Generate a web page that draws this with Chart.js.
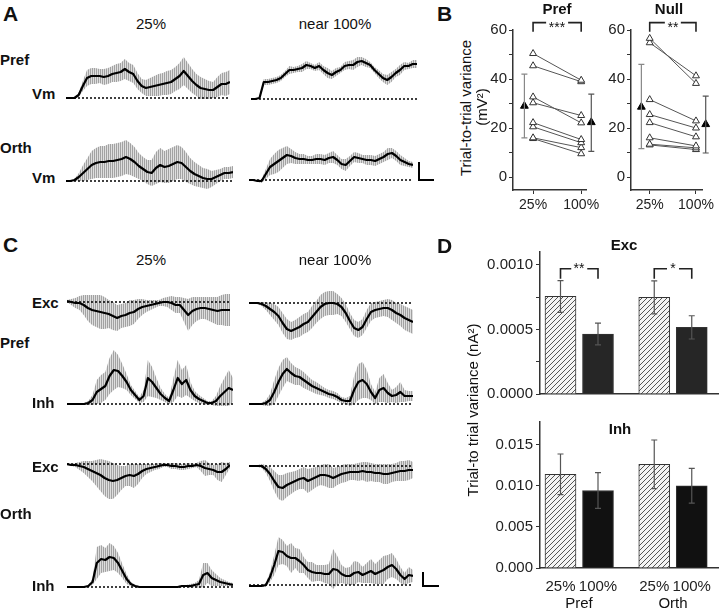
<!DOCTYPE html>
<html>
<head>
<meta charset="utf-8">
<script src="https://cdn.jsdelivr.net/npm/chart.js@4.4.0/dist/chart.umd.min.js"></script>
<style>
  body { margin: 0; background: #fff; }
  #fig { position: relative; width: 720px; height: 610px; overflow: hidden;
         font-family: "Liberation Sans", Arial, sans-serif; color: #111; }
  #fig canvas { position: absolute; }
  .t { position: absolute; white-space: nowrap; line-height: 1; }
</style>
</head>
<body>
<div id="fig"></div>
<script>
// ---- A: Vm traces, mean and s.d., 40 samples each ----
const aPref25 = [0,0,0,3,12,20,22,22,22,21,22,24,25,26,29,26,24,17,12,10,11,12,13,14,15,16,19,22,27,22,17,13,10,9,8,8,11,14,14,16];
const aPref25Sd = [0,0,0,2,5,8,8,8,7,8,8,8,9,9,10,9,9,8,7,8,9,10,11,11,12,12,12,13,14,13,12,11,11,10,9,8,10,11,12,12];
const aOrth25 = [0,0,1,4,8,12,16,18,19,19,20,20,21,22,24,22,19,15,12,9,8,13,16,14,15,17,19,18,14,10,7,5,3,2,2,4,6,8,8,9];
const aOrth25Sd = [0,0,1,4,8,11,14,15,16,16,17,17,17,17,17,16,15,13,12,12,13,16,17,16,17,17,17,16,15,13,12,11,10,10,8,7,6,6,6,6];
const aPref100 = [0,0,1,17,17,18,19,21,25,29,29,30,31,34,33,31,33,29,26,24,27,29,33,34,34,37,38,36,34,29,25,21,19,22,26,29,33,33,35,35];
const aPref100Sd = [0,0,1,3,3,3,3,3,3,4,3,3,4,4,3,3,4,4,5,4,4,3,4,4,5,5,4,4,3,3,4,4,5,5,4,5,4,3,4,4];
const aOrth100 = [0,0,-1,-1,6,13,16,19,22,25,24,22,21,21,20,20,21,21,20,22,23,20,16,15,19,23,22,21,20,20,19,21,23,26,27,24,20,18,16,15];
const aOrth100Sd = [0,0,1,2,5,8,10,11,10,9,7,6,5,5,4,4,5,5,5,5,6,5,5,6,5,5,5,4,5,5,5,5,5,6,5,5,5,4,3,3];

// ---- C: conductance traces ----
const cExcPref25 = [1,0,-1,-1,-3,-6,-8,-9,-10,-11,-12,-14,-16,-14,-13,-11,-10,-7,-5,-4,-3,-2,-1,0,0,-1,-3,-3,-8,-13,-9,-7,-6,-6,-7,-8,-9,-8,-8,-8];
const cExcPref25Sd = [1,3,5,7,10,13,15,16,17,16,14,14,13,12,12,13,12,10,8,6,5,4,3,4,5,7,8,8,12,16,14,12,11,11,12,13,14,15,16,16];
const cInhPref25 = [0,0,0,0,0,1,4,12,15,18,28,34,33,28,22,14,9,4,8,26,22,16,10,6,3,14,26,20,24,14,8,5,3,1,1,3,8,12,16,14];
const cInhPref25Sd = [0,0,0,0,1,2,5,12,14,14,18,20,16,12,8,5,4,3,6,18,15,10,6,4,3,12,18,14,15,8,5,4,3,2,2,5,10,14,18,12];
const cExcPref100 = [0,0,0,-1,-3,-6,-9,-13,-20,-26,-28,-26,-24,-21,-19,-14,-9,-4,-1,0,0,-1,-4,-10,-18,-25,-27,-24,-16,-9,-7,-6,-5,-5,-7,-10,-12,-15,-17,-19];
const cExcPref100Sd = [0,1,1,2,4,6,8,9,10,10,9,9,10,10,10,11,11,12,12,12,12,10,9,9,8,8,8,8,9,9,8,8,8,9,10,10,11,12,12,12];
const cInhPref100 = [0,0,0,0,1,4,12,22,30,35,31,28,27,24,21,18,16,14,12,10,9,7,4,3,3,14,22,24,20,12,6,14,16,11,8,9,12,8,8,8];
const cInhPref100Sd = [0,0,0,1,3,6,12,14,14,12,10,9,8,8,7,6,6,5,4,4,4,4,3,3,5,14,18,18,14,8,6,12,14,10,6,8,10,6,5,5];
const cExcOrth25 = [0,-1,-1,-2,-3,-5,-7,-9,-11,-14,-16,-17,-16,-14,-12,-11,-12,-10,-7,-5,-4,-3,-2,-1,-1,-2,-2,-3,-3,-2,-2,-1,-2,-4,-5,-6,-8,-8,-5,-1];
const cExcOrth25Sd = [0,1,2,4,6,8,10,13,16,18,19,18,15,12,10,11,12,10,7,5,4,3,3,2,2,3,3,3,3,3,2,2,5,8,6,5,8,10,6,3];
const cInhOrth25 = [0,0,0,0,0,1,5,24,28,27,30,29,24,16,8,3,1,0,0,0,0,0,0,0,0,0,0,1,1,1,2,3,12,14,9,7,5,4,3,2];
const cInhOrth25Sd = [0,0,0,0,0,1,3,16,14,12,14,12,10,7,5,2,1,1,1,1,1,1,1,1,1,1,1,1,1,2,2,4,12,10,8,6,4,3,2,2];
const cExcOrth100 = [0,0,0,0,-3,-8,-15,-21,-22,-19,-17,-15,-13,-12,-15,-13,-11,-9,-9,-10,-12,-10,-8,-7,-6,-6,-6,-5,-6,-6,-7,-7,-8,-8,-7,-6,-5,-5,-4,-4];
const cExcOrth100Sd = [0,1,1,2,4,7,10,12,13,12,11,10,10,11,12,11,10,10,11,12,10,9,9,9,8,8,9,9,10,9,9,9,10,10,9,9,10,10,10,8];
const cInhOrth100 = [-1,-1,-1,-1,0,8,20,34,33,29,27,27,24,20,15,13,12,12,11,11,16,15,11,9,9,12,13,10,12,14,11,13,15,18,20,16,10,6,10,9];
const cInhOrth100Sd = [0,0,0,1,2,5,10,14,12,10,15,10,12,8,8,10,8,8,9,10,20,14,9,8,9,12,10,8,10,12,10,12,14,12,12,10,8,6,8,6];

// ---- B: trial-to-trial variance per cell (mV^2) ----
const bLabels = ['25%', '100%'];
const bPref25 = [50.4, 45.4, 32.7, 30.3, 22.2, 20.5, 16.0, 15.7];
const bPref100 = [39.5, 38.9, 22.1, 25.1, 15.3, 14.0, 12.0, 9.5];
const bPrefMean = [29.0, 22.3];
const bPrefLo = [16.0, 10.5];
const bPrefHi = [42.0, 33.8];
const bNull25 = [56.6, 54.8, 31.6, 25.5, 22.2, 16.0, 13.4, 13.1];
const bNull100 = [38.2, 41.3, 22.9, 20.0, 16.4, 12.7, 11.9, 11.2];
const bNullMean = [28.6, 21.5];
const bNullLo = [11.6, 9.8];
const bNullHi = [46.0, 33.0];

// ---- D: variance of conductances (nA^2) ----
const dLabels = ['25%', '100%', '25%', '100%'];
const dExc = [0.000756, 0.000465, 0.000749, 0.000516];
const dExcSem = [0.000123, 0.000084, 0.000128, 0.000090];
const dInh = [0.01139, 0.00942, 0.01261, 0.00999];
const dInhSem = [0.00247, 0.00218, 0.00295, 0.00211];

const FONT = '"Liberation Sans", Arial, sans-serif';
Chart.defaults.font.family = FONT;
Chart.defaults.color = '#222';
const fig = document.getElementById('fig');

function addCanvas(left, top, w, h) {
  const c = document.createElement('canvas');
  c.width = w; c.height = h;
  c.style.left = left + 'px'; c.style.top = top + 'px';
  fig.appendChild(c);
  return c;
}

function label(text, x, y, size, bold, center) {
  const d = document.createElement('div');
  d.className = 't';
  d.textContent = text;
  d.style.left = x + 'px'; d.style.top = y + 'px';
  d.style.fontSize = size + 'px';
  if (bold) d.style.fontWeight = 'bold';
  d.style.transform = center ? 'translate(-50%,-50%)' : 'translate(0,-50%)';
  fig.appendChild(d);
}

function vlabel(text, x, y, size) {
  const d = document.createElement('div');
  d.className = 't';
  d.textContent = text;
  d.style.left = x + 'px'; d.style.top = y + 'px';
  d.style.fontSize = size + 'px';
  d.style.transform = 'translate(-50%,-50%) rotate(-90deg)';
  fig.appendChild(d);
}

function scaleBar(left, top, w, h) {
  const d = document.createElement('div');
  d.style.cssText = 'position:absolute;left:' + left + 'px;top:' + top + 'px;width:' + w +
    'px;height:' + h + 'px;border-left:2px solid #000;border-bottom:2px solid #000;';
  fig.appendChild(d);
}

const quiet = { legend: { display: false }, tooltip: { enabled: false } };

// striped gray for the s.d. band (looks like the dense error lines)
function stripes() {
  const p = document.createElement('canvas');
  p.width = 2; p.height = 1;
  const g = p.getContext('2d');
  g.fillStyle = '#a2a2a2'; g.fillRect(0, 0, 1, 1);
  g.fillStyle = '#dedede'; g.fillRect(1, 0, 1, 1);
  return g.createPattern(p, 'repeat');
}

function trace(mean, sd, x0, x1, base, yLo, yHi) {
  const pad = 4;
  const c = addCanvas(x0 - pad, base - yHi - pad, x1 - x0 + 2 * pad, yHi - yLo + 2 * pad);
  const pts = arr => arr.map((v, i) => ({ x: i, y: v }));
  new Chart(c, {
    type: 'line',
    data: { datasets: [
      { data: pts(mean), borderColor: '#000', borderWidth: 2.2, pointRadius: 0, borderJoinStyle: 'round' },
      { data: pts(mean.map(() => 0)), borderColor: '#000', borderWidth: 1.5, borderDash: [2, 2], pointRadius: 0 },
      { data: pts(mean.map((m, i) => m + sd[i])), borderWidth: 0, pointRadius: 0, fill: '+1', backgroundColor: stripes() },
      { data: pts(mean.map((m, i) => m - sd[i])), borderWidth: 0, pointRadius: 0, fill: false }
    ] },
    options: {
      animation: false, responsive: false, events: [],
      plugins: quiet,
      layout: { padding: pad },
      scales: {
        x: { type: 'linear', display: false, min: 0, max: mean.length - 1 },
        y: { display: false, min: yLo, max: yHi }
      }
    }
  });
}

function errBars(xs, lo, hi, colors, cap) {
  return {
    id: 'errbars',
    afterDatasetsDraw(chart) {
      const { ctx, scales: { x, y } } = chart;
      ctx.save();
      ctx.lineWidth = 1.2;
      xs.forEach((xv, i) => {
        const px = x.getPixelForValue(xv), p1 = y.getPixelForValue(lo[i]), p2 = y.getPixelForValue(hi[i]);
        ctx.strokeStyle = colors[i];
        ctx.beginPath();
        ctx.moveTo(px, p1); ctx.lineTo(px, p2);
        ctx.moveTo(px - cap, p1); ctx.lineTo(px + cap, p1);
        ctx.moveTo(px - cap, p2); ctx.lineTo(px + cap, p2);
        ctx.stroke();
      });
      ctx.restore();
    }
  };
}

function brackets(list) {
  return {
    id: 'brackets',
    afterDatasetsDraw(chart) {
      const { ctx, scales: { x, y } } = chart;
      ctx.save();
      ctx.strokeStyle = '#222';
      ctx.lineWidth = 1.6;
      list.forEach(b => {
        const a = x.getPixelForValue(b.x1), e = x.getPixelForValue(b.x2), py = y.getPixelForValue(b.y);
        const m = (a + e) / 2;
        ctx.beginPath();
        ctx.moveTo(a, py + b.drop); ctx.lineTo(a, py); ctx.lineTo(m - b.gap, py);
        ctx.moveTo(m + b.gap, py); ctx.lineTo(e, py); ctx.lineTo(e, py + b.drop);
        ctx.stroke();
      });
      ctx.restore();
    }
  };
}

function pairChart(left, w, padRight, xMin, xMax, first, second, mean, lo, hi, stars) {
  const c = addCanvas(left, 5, w, 210);
  const mx = [1 - 0.18, 2 + 0.21];
  const sets = first.map((a, i) => ({
    data: [{ x: 1, y: a }, { x: 2, y: second[i] }],
    borderColor: '#555', borderWidth: 1,
    pointStyle: 'triangle', pointRadius: 4, pointBorderWidth: 1,
    pointBorderColor: '#333', pointBackgroundColor: '#fff'
  }));
  sets.unshift({
    data: mean.map((m, i) => ({ x: mx[i], y: m })), showLine: false, clip: false,
    pointStyle: 'triangle', pointRadius: 4.5, pointBackgroundColor: '#000', pointBorderColor: '#000'
  });
  new Chart(c, {
    type: 'line',
    data: { datasets: sets },
    options: {
      animation: false, responsive: false, events: [],
      plugins: quiet,
      layout: { padding: { top: 25, right: padRight, left: 0, bottom: 0 } },
      scales: {
        x: {
          type: 'linear', min: xMin, max: xMax,
          afterBuildTicks: s => { s.ticks = [1, 2].map(v => ({ value: v })); },
          afterFit: s => { s.height = 25; },
          ticks: { callback: v => bLabels[v - 1], font: { size: 14 }, padding: 3, maxRotation: 0 },
          grid: { drawOnChartArea: false, tickLength: 4, color: '#333' },
          border: { color: '#333', width: 1.5 }
        },
        y: {
          min: -5.3, max: 60,
          afterBuildTicks: s => { s.ticks = [0, 10, 20, 30, 40, 50, 60].map(v => ({ value: v })); },
          afterFit: s => { s.width = 30; },
          ticks: { callback: v => (v % 20 === 0 ? v : ''), font: { size: 15 }, padding: 2 },
          grid: { drawOnChartArea: false, tickLength: 4, color: '#333' },
          border: { color: '#333', width: 1.5 }
        }
      }
    },
    plugins: [errBars(mx, lo, hi, ['#888', '#555'], 3), brackets([{ x1: 1, x2: 2, y: 63, drop: 9, gap: stars }])]
  });
}

function hatch() {
  const p = document.createElement('canvas');
  p.width = 5; p.height = 5;
  const g = p.getContext('2d');
  g.fillStyle = '#f4f4f4'; g.fillRect(0, 0, 5, 5);
  g.strokeStyle = '#555'; g.lineWidth = 1;
  g.beginPath();
  g.moveTo(0, 5); g.lineTo(5, 0);
  g.moveTo(-1, 1); g.lineTo(1, -1);
  g.moveTo(4, 6); g.lineTo(6, 4);
  g.stroke();
  return g.createPattern(p, 'repeat');
}

function barChart(top, h, padTop, xH, yMax, step, major, digits, vals, sem, dark, showX, marks) {
  const c = addCanvas(480, top, 240, h);
  const xs = [1, 2, 3.5, 4.5];
  const pat = hatch();
  const plugins = [errBars(xs, vals.map((v, i) => v - sem[i]), vals.map((v, i) => v + sem[i]), ['#555', '#555', '#555', '#555'], 3)];
  if (marks) plugins.push(brackets(marks));
  new Chart(c, {
    type: 'bar',
    data: { datasets: [{
      data: vals.map((v, i) => ({ x: xs[i], y: v })),
      backgroundColor: [pat, dark, pat, dark],
      borderColor: '#333', borderWidth: 1, barThickness: 31
    }] },
    options: {
      animation: false, responsive: false, events: [],
      plugins: quiet,
      layout: { padding: { top: padTop, right: 2, left: 0, bottom: 0 } },
      scales: {
        x: {
          type: 'linear', min: 0.4533, max: 5.2, offset: false,
          afterBuildTicks: s => { s.ticks = xs.map(v => ({ value: v })); },
          afterFit: s => { s.height = xH; },
          ticks: { display: showX, callback: (v, i) => dLabels[i], font: { size: 15 }, padding: 2, maxRotation: 0 },
          grid: { display: false, offset: false },
          border: { display: true, color: '#333', width: 1.5 }
        },
        y: {
          min: 0, max: yMax,
          afterBuildTicks: s => {
            const t = [];
            for (let k = 0; k * step <= yMax + 1e-12; k++) t.push({ value: k * step });
            s.ticks = t;
          },
          afterFit: s => { s.width = 60; },
          ticks: {
            callback: v => (Math.abs(v / major - Math.round(v / major)) < 1e-6 ? v.toFixed(digits) : ''),
            font: { size: 15 }, padding: 3
          },
          grid: { drawOnChartArea: false, tickLength: 4, color: '#333' },
          border: { color: '#333', width: 1.5 }
        }
      }
    },
    plugins: plugins
  });
}

// panel A traces
trace(aPref25, aPref25Sd, 66, 230, 98, -25, 50);
trace(aOrth25, aOrth25Sd, 66, 233, 181, -25, 50);
trace(aPref100, aPref100Sd, 251, 417, 98.5, -25, 50);
trace(aOrth100, aOrth100Sd, 249, 413, 180, -25, 50);
scaleBar(418, 162, 14, 17);

// panel C traces
trace(cExcPref25, cExcPref25Sd, 67, 230, 302, -50, 15);
trace(cInhPref25, cInhPref25Sd, 67, 233, 404, -10, 55);
trace(cExcPref100, cExcPref100Sd, 249, 413, 303, -50, 15);
trace(cInhPref100, cInhPref100Sd, 249, 413, 404, -10, 55);
trace(cExcOrth25, cExcOrth25Sd, 67, 230, 464, -50, 15);
trace(cInhOrth25, cInhOrth25Sd, 67, 233, 587, -10, 55);
trace(cExcOrth100, cExcOrth100Sd, 249, 413, 466, -50, 15);
trace(cInhOrth100, cInhOrth100Sd, 249, 413, 585, -10, 55);
scaleBar(422, 572, 15, 13);

// panel B
pairChart(483, 133, 30, 0.583, 2.1, bPref25, bPref100, bPrefMean, bPrefLo, bPrefHi, 11);
pairChart(601, 119, 18, 0.596, 2.13, bNull25, bNull100, bNullMean, bNullLo, bNullHi, 8);

// panel D
barChart(240, 166, 5.6, 2, 0.0011, 0.00025, 0.0005, 4, dExc, dExcSem, '#262626', false,
  [{ x1: 1, x2: 2, y: 0.00097, drop: 10, gap: 8 }, { x1: 3.5, x2: 4.5, y: 0.00097, drop: 10, gap: 6 }]);
barChart(410, 198, 3, 40, 0.01775, 0.0025, 0.005, 3, dInh, dInhSem, '#111', true, null);

// text
label('A', 3, 13, 21, true, false);
label('25%', 151, 23, 15, false, true);
label('near 100%', 335, 23, 15, false, true);
label('Pref', 0, 59, 15, true, false);
label('Vm', 32, 93, 15, true, false);
label('Orth', 0, 147, 15, true, false);
label('Vm', 32, 177, 15, true, false);

label('B', 437, 13, 21, true, false);
vlabel('Trial-to-trial variance', 465, 108, 15);
vlabel('(mV²)', 481, 107, 15);
label('Pref', 557, 8, 15, true, true);
label('Null', 669, 8, 15, true, true);
label('***', 557, 27, 14, false, true);
label('**', 673, 27, 14, false, true);

label('C', 3, 244, 21, true, false);
label('25%', 151, 259, 15, false, true);
label('near 100%', 335, 259, 15, false, true);
label('Exc', 32, 302, 15, true, false);
label('Pref', 0, 342, 15, true, false);
label('Inh', 32, 402, 15, true, false);
label('Exc', 32, 466, 15, true, false);
label('Orth', 0, 513, 15, true, false);
label('Inh', 32, 585, 15, true, false);

label('D', 437, 245, 21, true, false);
label('Exc', 624, 244, 15, true, true);
label('Inh', 620, 428, 15, true, true);
label('**', 579, 268, 14, false, true);
label('*', 673, 268, 14, false, true);
vlabel('Trial-to trial variance (nA²)', 472, 410, 15);
label('Pref', 579, 602, 15, false, true);
label('Orth', 673, 602, 15, false, true);
</script>
</body>
</html>
